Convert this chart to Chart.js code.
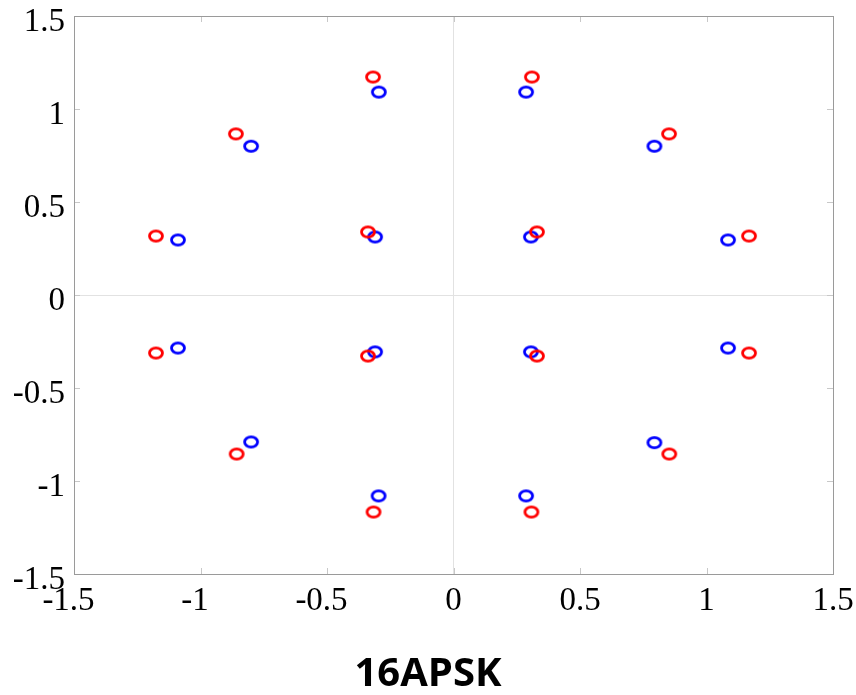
<!DOCTYPE html>
<html>
<head>
<meta charset="utf-8">
<script src="https://cdn.jsdelivr.net/npm/chart.js@4/dist/chart.umd.min.js"></script>
<style>
  html, body { margin: 0; padding: 0; background: #fff; }
  #wrap { width: 856px; height: 695px; }
</style>
</head>
<body>
<div id="wrap"><canvas id="chartApsk"></canvas></div>
<script>
// received symbols (red) and ideal symbols (blue)
const redX = [-0.318, 0.310, -0.860, 0.852, -1.176, 1.168, -1.176, 1.168, -0.857, 0.853, -0.316, 0.308, -0.338, 0.330, -0.338, 0.330];
const redY = [1.172, 1.172, 0.866, 0.866, 0.317, 0.317, -0.312, -0.312, -0.855, -0.855, -1.167, -1.167, 0.339, 0.339, -0.328, -0.328];
const blueX = [-0.295, 0.287, -0.800, 0.794, -1.089, 1.085, -1.089, 1.085, -0.800, 0.794, -0.296, 0.287, -0.310, 0.306, -0.310, 0.306];
const blueY = [1.091, 1.091, 0.800, 0.800, 0.296, 0.296, -0.285, -0.285, -0.790, -0.794, -1.080, -1.080, 0.312, 0.312, -0.306, -0.306];
const tickValues = [-1.5, -1, -0.5, 0, 0.5, 1, 1.5];
const chartTitle = '16APSK';

function toPoints(xs, ys) {
    return xs.map((x, i) => ({ x: x, y: ys[i] }));
}

// little open ellipse used as marker
function ellipseMarker(color) {
    const c = document.createElement('canvas');
    c.width = 18;
    c.height = 15;
    const g = c.getContext('2d');
    g.strokeStyle = color;
    g.lineWidth = 2.8;
    g.beginPath();
    g.ellipse(9, 7.5, 6.5, 5.1, 0, 0, Math.PI * 2);
    g.stroke();
    return c;
}

function fmt(v) {
    return String(v);
}

// box around the plot and small inward ticks on all four sides
const boxTicks = {
    id: 'boxTicks',
    afterDatasetsDraw(chart) {
        const { ctx, chartArea: a, scales } = chart;
        const len = 6;
        ctx.save();
        ctx.lineWidth = 1;
        ctx.strokeStyle = '#c8c8c8';
        ctx.beginPath();
        tickValues.forEach(v => {
            const px = Math.round(scales.x.getPixelForValue(v)) + 0.5;
            ctx.moveTo(px, a.bottom);
            ctx.lineTo(px, a.bottom - len);
            ctx.moveTo(px, a.top);
            ctx.lineTo(px, a.top + len);
            const py = Math.round(scales.y.getPixelForValue(v)) + 0.5;
            ctx.moveTo(a.left, py);
            ctx.lineTo(a.left + len, py);
            ctx.moveTo(a.right, py);
            ctx.lineTo(a.right - len, py);
        });
        ctx.stroke();
        ctx.strokeStyle = '#9a9a9a';
        ctx.strokeRect(Math.round(a.left) + 0.5, Math.round(a.top) + 0.5,
            Math.round(a.right - a.left), Math.round(a.bottom - a.top));
        ctx.restore();
    }
};

const tickFont = { family: '"Liberation Serif", "Times New Roman", serif', size: 33 };

new Chart(document.getElementById('chartApsk'), {
    type: 'scatter',
    data: {
        datasets: [
            {
                label: 'received',
                data: toPoints(redX, redY),
                pointStyle: ellipseMarker('#ff0000'),
                borderColor: '#ff0000',
                backgroundColor: '#ff0000'
            },
            {
                label: 'ideal',
                data: toPoints(blueX, blueY),
                pointStyle: ellipseMarker('#0000ff'),
                borderColor: '#0000ff',
                backgroundColor: '#0000ff'
            }
        ]
    },
    options: {
        responsive: true,
        maintainAspectRatio: false,
        animation: false,
        layout: { padding: 0 },
        plugins: {
            legend: { display: false },
            tooltip: { enabled: false },
            title: {
                display: true,
                position: 'bottom',
                text: chartTitle,
                color: '#000',
                font: { family: '"Open Sans", sans-serif', size: 40, weight: 'bold', lineHeight: 1.0 },
                padding: { top: 3, bottom: 0 }
            }
        },
        scales: {
            x: {
                type: 'linear',
                min: -1.5,
                max: 1.5,
                afterBuildTicks: s => { s.ticks = tickValues.map(v => ({ value: v })); },
                afterFit: s => {
                    s.height = 78;
                    s.paddingLeft = 0;
                    s.paddingRight = 23;
                },
                grid: {
                    drawTicks: false,
                    color: c => (c.tick && c.tick.value === 0 ? '#e2e2e2' : 'rgba(0,0,0,0)')
                },
                border: { display: false },
                ticks: {
                    color: '#000',
                    font: tickFont,
                    padding: 8,
                    maxRotation: 0,
                    autoSkip: false,
                    callback: v => (v < 0 ? fmt(v) + '\u2004' : fmt(v))
                }
            },
            y: {
                type: 'linear',
                min: -1.5,
                max: 1.5,
                afterBuildTicks: s => { s.ticks = tickValues.map(v => ({ value: v })); },
                afterFit: s => {
                    s.width = 74;
                    s.paddingTop = 16;
                    s.paddingBottom = 0;
                },
                grid: {
                    drawTicks: false,
                    color: c => (c.tick && c.tick.value === 0 ? '#e2e2e2' : 'rgba(0,0,0,0)')
                },
                border: { display: false },
                ticks: {
                    color: '#000',
                    font: tickFont,
                    padding: 9,
                    labelOffset: 6,
                    autoSkip: false,
                    callback: v => fmt(v)
                }
            }
        }
    },
    plugins: [boxTicks]
});
</script>
</body>
</html>
